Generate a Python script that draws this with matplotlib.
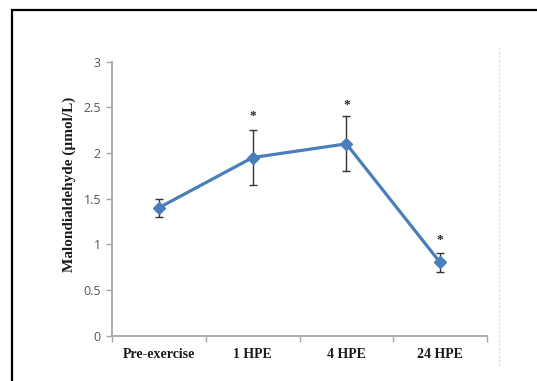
import matplotlib
matplotlib.use("Agg")
import matplotlib.pyplot as plt
from matplotlib.patches import Rectangle
from matplotlib.lines import Line2D

# data
groups = ["Pre-exercise", "1 HPE", "4 HPE", "24 HPE"]
mda = [1.4, 1.95, 2.1, 0.8]
mda_err = [0.1, 0.3, 0.3, 0.1]
sig = [False, True, True, True]
star_y = [None, 2.41, 2.53, 1.05]

fig = plt.figure(figsize=(5.37, 3.81), dpi=100)
ax = fig.add_axes([0.2086, 0.1194, 0.6983, 0.7186])

x = range(len(groups))
ax.errorbar(x, mda, yerr=mda_err, fmt="none", ecolor="#333333",
            elinewidth=1.0, capsize=3, capthick=1.0, zorder=2)
ax.plot(x, mda, color="#4a7ebb", linewidth=2.3, marker="D",
        markersize=6, markerfacecolor="#4a7ebb", markeredgecolor="#4a7ebb",
        zorder=3)

for i, s in enumerate(sig):
    if s:
        ax.text(i, star_y[i], "*", ha="center", va="center", fontsize=9.5,
                color="#222222", family="Liberation Serif", fontweight="bold")

ax.set_xlim(-0.5, len(groups) - 0.5)
ax.set_ylim(0, 3)
ax.set_yticks([0, 0.5, 1, 1.5, 2, 2.5, 3])
ax.set_yticklabels(["0", "0.5", "1", "1.5", "2", "2.5", "3"])
ax.set_xticks(list(x))
ax.set_xticklabels(groups, family="Liberation Serif", fontweight="bold",
                   fontsize=10, color="#1a1a1a")
ax.set_xticks([i - 0.5 for i in range(len(groups) + 1)], minor=True)

ax.tick_params(axis="x", which="major", length=0, pad=9)
ax.tick_params(axis="x", which="minor", length=4, color="#a6a6a6",
               direction="out", width=1)
ax.tick_params(axis="y", length=4, color="#a6a6a6", width=1, pad=4,
               labelsize=9, labelcolor="#555555")
for lab in ax.get_yticklabels():
    lab.set_family("Open Sans")

ax.set_ylabel("Malondialdehyde (µmol/L)", family="Liberation Serif",
              fontweight="bold", fontsize=11, color="#1a1a1a")
ax.yaxis.set_label_coords(-0.096, 0.553)

for side in ["top", "right"]:
    ax.spines[side].set_visible(False)
for side in ["left", "bottom"]:
    ax.spines[side].set_color("#a6a6a6")
    ax.spines[side].set_linewidth(1.3)

# faint dotted divider on the right side of the chart area
fig.add_artist(Line2D([499 / 537, 499 / 537], [1 - 47 / 381, 1 - 366 / 381],
                      transform=fig.transFigure, color="#e3e3e3",
                      linewidth=1, linestyle=(0, (2, 1))))

# black frame around the figure, cut off at right and bottom
fig.add_artist(Rectangle((12 / 537, -0.1), 1.2, 1.1 - 10 / 381,
                         transform=fig.transFigure, fill=False,
                         edgecolor="black", linewidth=1.6))

fig.savefig("out.png", dpi=100)
